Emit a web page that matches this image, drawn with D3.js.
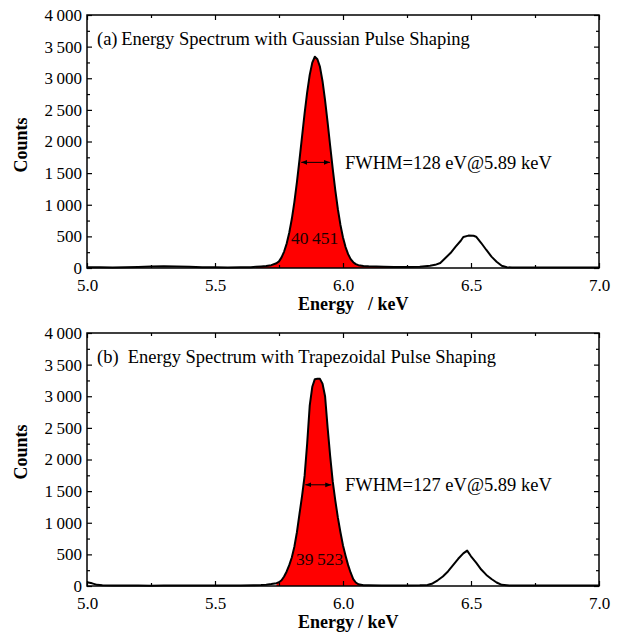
<!DOCTYPE html>
<html>
<head>
<meta charset="utf-8">
<script src="https://cdn.jsdelivr.net/npm/d3@7"></script>
<style>
  body { margin: 0; background: #fff; }
  svg { display: block; }
  text { font-family: "Liberation Serif", "Times New Roman", serif; }
</style>
</head>
<body>
<div id="chart"></div>
<script>
// spectrum (a): gaussian shaping
const gaussEnergy = [
  5.00, 5.05, 5.10, 5.15, 5.20, 5.25, 5.30, 5.35, 5.40, 5.45, 5.50, 5.55, 5.60, 5.64,
  5.66, 5.68, 5.70, 5.72, 5.74, 5.75, 5.76, 5.77, 5.78, 5.79, 5.80, 5.81, 5.82, 5.83,
  5.84, 5.85, 5.86, 5.87, 5.88, 5.89, 5.90, 5.91, 5.92, 5.93, 5.94, 5.95, 5.96, 5.97,
  5.98, 5.99, 6.00, 6.01, 6.02, 6.03, 6.04, 6.05, 6.06, 6.08, 6.10, 6.13, 6.16, 6.20,
  6.25, 6.30, 6.34, 6.36, 6.38, 6.40, 6.42, 6.44, 6.46, 6.47, 6.49, 6.51, 6.52, 6.54,
  6.56, 6.58, 6.60, 6.62, 6.64, 6.66, 6.70, 6.75, 6.80, 6.85, 6.90, 6.95, 7.00
];
const gaussCounts = [
  12, 10, 8, 10, 15, 22, 28, 24, 18, 12, 10, 8, 10, 12,
  18, 24, 30, 45, 75, 105, 168, 260, 386, 557, 774, 1042, 1358, 1708,
  2078, 2445, 2778, 3054, 3247, 3340, 3300, 3181, 2953, 2651, 2300, 1929, 1564, 1228,
  929, 681, 483, 331, 219, 140, 92, 62, 45, 32, 26, 22, 18, 15,
  15, 20, 35, 50, 80, 158, 237, 337, 431, 490, 512, 510, 495, 395,
  285, 180, 100, 35, 12, 8, 8, 6, 8, 7, 6, 8, 7
];

// spectrum (b): trapezoidal shaping
const trapEnergy = [
  5.00, 5.02, 5.04, 5.06, 5.10, 5.15, 5.20, 5.25, 5.30, 5.35, 5.40, 5.45, 5.50, 5.55,
  5.60, 5.65, 5.68, 5.70, 5.72, 5.74, 5.75, 5.76, 5.77, 5.78, 5.79, 5.80, 5.81, 5.82,
  5.83, 5.84, 5.85, 5.86, 5.87, 5.88, 5.89, 5.90, 5.91, 5.92, 5.93, 5.94, 5.95, 5.96,
  5.97, 5.98, 5.99, 6.00, 6.01, 6.02, 6.03, 6.04, 6.05, 6.06, 6.08, 6.10, 6.15, 6.20,
  6.25, 6.30, 6.33, 6.35, 6.37, 6.39, 6.41, 6.43, 6.45, 6.47, 6.485, 6.50, 6.52, 6.54,
  6.56, 6.58, 6.60, 6.62, 6.65, 6.70, 6.75, 6.80, 6.85, 6.90, 6.95, 7.00
];
const trapCounts = [
  60, 42, 18, 10, 8, 6, 7, 5, 7, 6, 8, 6, 8, 7,
  9, 12, 15, 20, 30, 45, 60, 90, 150, 230, 330, 450, 620, 850,
  1140, 1420, 1740, 2250, 2850, 3150, 3270, 3275, 3275, 3200, 3000, 2500, 2050, 1650,
  1350, 1080, 850, 640, 480, 330, 210, 110, 55, 28, 12, 10, 8, 9,
  8, 10, 15, 40, 90, 150, 230, 330, 430, 516, 560, 470, 370, 260,
  175, 110, 55, 18, 8, 7, 6, 8, 6, 7, 6, 8
];

const panelTitles = [
  "(a)\u2009Energy Spectrum with Gaussian Pulse Shaping",
  "(b)\u2002Energy Spectrum with Trapezoidal Pulse Shaping"
];
const fwhmLabels = ["FWHM=128 eV@5.89 keV", "FWHM=127 eV@5.89 keV"];
const areaLabels = ["40\u2009451", "39\u2009523"];
const fillRanges = [[5.66, 6.20], [5.74, 6.08]];
const fwhmSpans = [[5.829, 5.957, 1670], [5.845, 5.962, 1600]];
const xTitleGaps = [14, 4];

const xMajor = [5.0, 5.5, 6.0, 6.5, 7.0];
const xMinor = [5.25, 5.75, 6.25, 6.75];
const yMajor = [0, 500, 1000, 1500, 2000, 2500, 3000, 3500, 4000];
const yMinor = [250, 750, 1250, 1750, 2250, 2750, 3250, 3750];

const width = 624, height = 635;
const left = 87, right = 599;
const panelTops = [15, 333];
const plotH = 253;
const countsCenters = [145, 452];

const fmtLocale = d3.formatLocale({ decimal: ".", thousands: "\u2009", grouping: [3], currency: ["", ""] });
const yFmt = fmtLocale.format(",d");

const svg = d3.select("#chart").append("svg")
  .attr("width", width)
  .attr("height", height);

const defs = svg.append("defs");
defs.append("marker")
  .attr("id", "arrow")
  .attr("viewBox", "0 0 10 10")
  .attr("refX", 10)
  .attr("refY", 5)
  .attr("markerWidth", 6)
  .attr("markerHeight", 6)
  .attr("orient", "auto-start-reverse")
  .append("path")
  .attr("d", "M0,1 L10,5 L0,9 Z")
  .attr("fill", "#000");

const panels = [
  { energy: gaussEnergy, counts: gaussCounts },
  { energy: trapEnergy, counts: trapCounts }
];

panels.forEach((p, i) => {
  const top = panelTops[i];
  const bottom = top + plotH;
  const data = p.energy.map((e, k) => ({ e, c: p.counts[k] }));

  const x = d3.scaleLinear().domain([5, 7]).range([left, right]);
  const y = d3.scaleLinear().domain([0, 4000]).range([bottom, top]);

  const g = svg.append("g");

  // red filled peak
  const [f0, f1] = fillRanges[i];
  const fillData = data.filter((d) => d.e >= f0 - 1e-9 && d.e <= f1 + 1e-9);
  g.append("path")
    .datum(fillData)
    .attr("fill", "#ff0000")
    .attr("d", d3.area().x((d) => x(d.e)).y0(y(0)).y1((d) => y(d.c)));

  // spectrum line
  g.append("path")
    .datum(data)
    .attr("fill", "none")
    .attr("stroke", "#000")
    .attr("stroke-width", 2)
    .attr("stroke-linejoin", "round")
    .attr("d", d3.line().x((d) => x(d.e)).y((d) => y(d.c)));

  // axes, ticks pointing inward
  const addAxis = (axis, tx, ty, labels) => {
    const a = g.append("g").attr("transform", `translate(${tx},${ty})`).call(axis);
    a.select(".domain").remove();
    a.selectAll("line").attr("stroke", "#000").attr("stroke-width", 1.2);
    a.selectAll("text")
      .attr("font-size", 17)
      .attr("fill", "#000")
      .style("font-family", '"Liberation Serif", "Times New Roman", serif');
    if (!labels) a.selectAll("text").remove();
    return a;
  };

  addAxis(d3.axisBottom(x).tickValues(xMajor).tickSize(-5).tickPadding(11).tickFormat(d3.format(".1f")), 0, bottom, true);
  addAxis(d3.axisBottom(x).tickValues(xMinor).tickSize(-3).tickFormat(""), 0, bottom, false);
  addAxis(d3.axisTop(x).tickValues(xMajor).tickSize(-5).tickFormat(""), 0, top, false);
  addAxis(d3.axisTop(x).tickValues(xMinor).tickSize(-3).tickFormat(""), 0, top, false);
  addAxis(d3.axisLeft(y).tickValues(yMajor).tickSize(-5).tickPadding(5).tickFormat(yFmt), left, 0, true);
  addAxis(d3.axisLeft(y).tickValues(yMinor).tickSize(-3).tickFormat(""), left, 0, false);
  addAxis(d3.axisRight(y).tickValues(yMajor).tickSize(-5).tickFormat(""), right, 0, false);
  addAxis(d3.axisRight(y).tickValues(yMinor).tickSize(-3).tickFormat(""), right, 0, false);

  // frame
  g.append("rect")
    .attr("x", left)
    .attr("y", top)
    .attr("width", right - left)
    .attr("height", plotH)
    .attr("fill", "none")
    .attr("stroke", "#000")
    .attr("stroke-width", 1.5);

  // FWHM arrow
  const [a0, a1, ah] = fwhmSpans[i];
  g.append("line")
    .attr("x1", x(a0) + 2)
    .attr("x2", x(a1) - 2)
    .attr("y1", y(ah))
    .attr("y2", y(ah))
    .attr("stroke", "#000")
    .attr("stroke-width", 1)
    .attr("marker-start", "url(#arrow)")
    .attr("marker-end", "url(#arrow)");

  g.append("text")
    .attr("x", 345)
    .attr("y", y(ah) + 6.5)
    .attr("font-size", 18.5)
    .text(fwhmLabels[i]);

  g.append("text")
    .attr("x", i === 0 ? 291 : 296)
    .attr("y", bottom - (i === 0 ? 24 : 21))
    .attr("font-size", 17.5)
    .attr("fill", "#1a0000")
    .text(areaLabels[i]);

  // panel title
  g.append("text")
    .attr("x", 97)
    .attr("y", top + 29.5)
    .attr("font-size", 18.5)
    .text(panelTitles[i]);

  // axis titles
  const xt = g.append("text")
    .attr("x", 298)
    .attr("y", bottom + 42)
    .attr("font-size", 18)
    .attr("font-weight", "bold");
  xt.append("tspan").text("Energy");
  xt.append("tspan").attr("dx", xTitleGaps[i]).text("/ keV");

  g.append("text")
    .attr("transform", `translate(27,${countsCenters[i]}) rotate(-90)`)
    .attr("text-anchor", "middle")
    .attr("font-size", 18)
    .attr("font-weight", "bold")
    .text("Counts");
});
</script>
</body>
</html>
